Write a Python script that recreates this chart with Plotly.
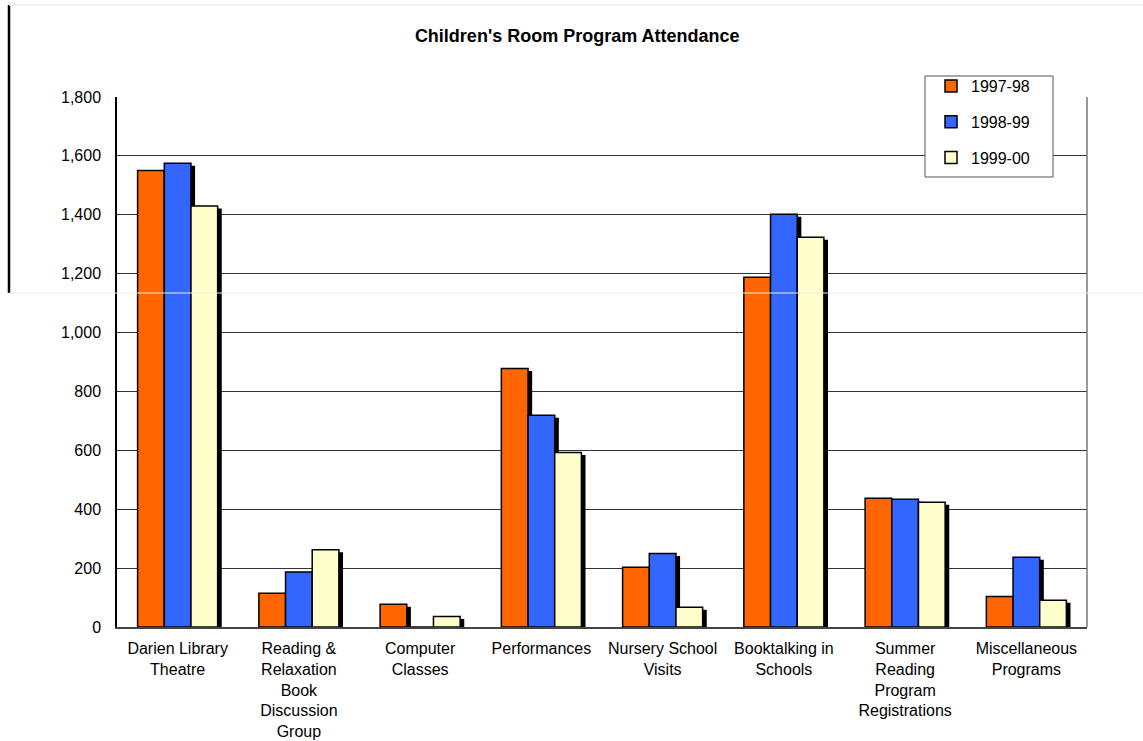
import plotly.graph_objects as go

categories = [
    "Darien Library<br>Theatre",
    "Reading &<br>Relaxation<br>Book<br>Discussion<br>Group",
    "Computer<br>Classes",
    "Performances",
    "Nursery School<br>Visits",
    "Booktalking in<br>Schools",
    "Summer<br>Reading<br>Program<br>Registrations",
    "Miscellaneous<br>Programs",
]
series_names = ["1997-98", "1998-99", "1999-00"]
v_1997 = [1550, 115, 77, 878, 203, 1188, 437, 104]
v_1998 = [1575, 187, 0, 719, 250, 1402, 434, 237]
v_1999 = [1430, 262, 36, 593, 67, 1324, 424, 91]
series_values = [v_1997, v_1998, v_1999]
colors = ["#FF6600", "#3366FF", "#FFFFCC"]
y_ticks = [0, 200, 400, 600, 800, 1000, 1200, 1400, 1600, 1800]

FONT = "Arial, 'Liberation Sans', sans-serif"
bar_w = 0.22
shadow_dx = 0.034
shadow_dy = 8.5

fig = go.Figure()

# shadows first
for i, vals in enumerate(series_values):
    off = -1.5 * bar_w + i * bar_w
    fig.add_trace(go.Bar(
        x=categories, y=[max(v - shadow_dy, 0) for v in vals],
        width=bar_w, offset=off + shadow_dx,
        marker=dict(color="black", line=dict(width=0)),
        showlegend=False, hoverinfo="skip",
    ))

for i, (name, vals) in enumerate(zip(series_names, series_values)):
    off = -1.5 * bar_w + i * bar_w
    fig.add_trace(go.Bar(
        x=categories, y=vals, name=name, width=bar_w, offset=off,
        marker=dict(color=colors[i], line=dict(color="black", width=1.5)),
        legendgroup=name,
    ))

px_x = 970.0
px_y = 530.0

fig.update_layout(
    width=1143, height=741,
    barmode="overlay",
    paper_bgcolor="white", plot_bgcolor="white",
    margin=dict(l=117, r=56, t=97, b=114, autoexpand=False),
    font=dict(family=FONT, size=16, color="black"),
    title=dict(text="<b>Children's Room Program Attendance</b>",
               x=0.505, xanchor="center", y=1 - 36 / 741, yanchor="middle",
               font=dict(size=18, family=FONT)),
    legend=dict(x=(931 - 117) / px_x, y=(627 - 69) / px_y, xanchor="left", yanchor="top",
                borderwidth=0, bgcolor="rgba(0,0,0,0)",
                font=dict(size=16), traceorder="grouped", tracegroupgap=12,
                itemwidth=30),
    showlegend=True,
)
fig.update_xaxes(showline=True, linecolor="#444", linewidth=1.5, ticks="",
                 tickfont=dict(size=16), showgrid=False, ticklabelstandoff=6,
                 automargin=False)
fig.update_yaxes(range=[0, 1800], tickvals=y_ticks, tickformat=",", ticks="",
                 showgrid=True, gridcolor="#333", gridwidth=1.2,
                 showline=True, linecolor="black", linewidth=1.5,
                 tickfont=dict(size=16), ticklabelstandoff=11, zeroline=False,
                 automargin=False)

# legend box
fig.add_shape(type="rect", xref="paper", yref="paper", layer="above",
              x0=(925 - 117) / px_x, x1=(1053 - 117) / px_x,
              y0=(627 - 177) / px_y, y1=(627 - 76) / px_y,
              fillcolor="white", line=dict(color="#555", width=1))
# right border of plot area
fig.add_shape(type="line", xref="paper", yref="paper", x0=1, x1=1, y0=0, y1=1,
              line=dict(color="#777", width=1.5))
# artifacts of the original page: vertical bar and faint frame lines
fig.add_shape(type="line", xref="paper", yref="paper",
              x0=(9 - 117) / px_x, x1=(9 - 117) / px_x,
              y0=(627 - 5) / px_y, y1=(627 - 293) / px_y,
              line=dict(color="black", width=2.5))
fig.add_shape(type="line", xref="paper", yref="paper",
              x0=(9 - 117) / px_x, x1=(1143 - 117) / px_x,
              y0=(627 - 5) / px_y, y1=(627 - 5) / px_y,
              line=dict(color="#ececec", width=1.5))
fig.add_shape(type="line", xref="paper", yref="paper",
              x0=(9 - 117) / px_x, x1=(1143 - 117) / px_x,
              y0=(627 - 293) / px_y, y1=(627 - 293) / px_y,
              line=dict(color="#ededed", width=1.2))

fig.write_html("out.html")
